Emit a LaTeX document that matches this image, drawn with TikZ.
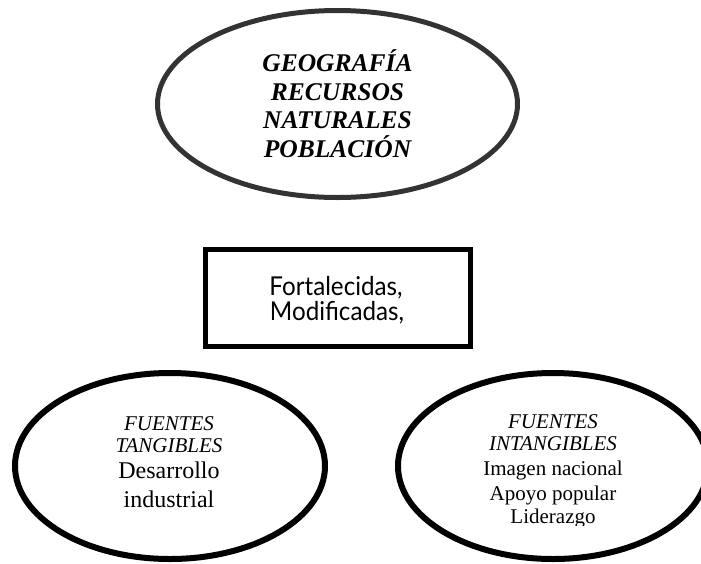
\documentclass[tikz,border=0pt]{standalone}
\usepackage{fontspec}
\setmainfont{Liberation Serif}
\newfontfamily\cajafont[FakeStretch=0.93]{Lato}
\definecolor{grisoscuro}{HTML}{333333}
\tikzset{
  linea/.style={anchor=base, inner sep=0pt},
  titulo/.style={linea, font=\fontsize{25.5}{28}\selectfont\bfseries\itshape},
  caja/.style={linea, font=\fontsize{26}{25}\selectfont\cajafont},
  fuente/.style={linea, font=\fontsize{21}{22}\selectfont\itshape},
  gruesa/.style={line width=6pt}
}

\begin{document}
\begin{tikzpicture}[x=1pt,y=-1pt]
            \useasboundingbox (0,0) rectangle (701,563);

            % elipses y caja
            \draw[line width=5pt, grisoscuro] (337.5,104) ellipse (180 and 93.5);
            \draw[line width=5pt] (205.5,249.5) rectangle (470.5,346.5);
            \draw[gruesa] (170,466) ellipse (155 and 93);
            \draw[gruesa] (553,466) ellipse (155 and 93);

            \node[titulo] (geo) at (337.5,71.5) {GEOGRAFÍA};
            \node[titulo] (rec) at (337.5,100) {RECURSOS};
            \node[titulo] (nat) at (337.5,128.5) {NATURALES};
            \node[titulo] (pob) at (337.5,157) {POBLACIÓN};

            \node[caja] (fort) at (336,295) {Fortalecidas,};
            \node[caja] (modi) at (337,320) {Modificadas,};

            \node[fuente] (fuen1) at (169,430) {FUENTES};
            \node[fuente] (tang) at (169,452) {TANGIBLES};
            \node[linea, font=\fontsize{24}{28}\selectfont] (desa) at (169,478) {Desarrollo};
            \node[linea, font=\fontsize{24}{28}\selectfont] (indu) at (169,507) {industrial};

            \node[fuente] (fuen2) at (553,428) {FUENTES};
            \node[fuente] (intang) at (553,450) {INTANGIBLES};
            \node[linea, font=\fontsize{21}{25}\selectfont] (imag) at (553,475) {Imagen nacional};
            \node[linea, font=\fontsize{21}{25}\selectfont] (apoy) at (553,500) {Apoyo popular};
            \begin{scope}
              \clip (400,505) rectangle (700,525);
              \node[linea, font=\fontsize{21}{25}\selectfont] (lide) at (553,523) {Liderazgo};
            \end{scope}
\end{tikzpicture}
\end{document}
